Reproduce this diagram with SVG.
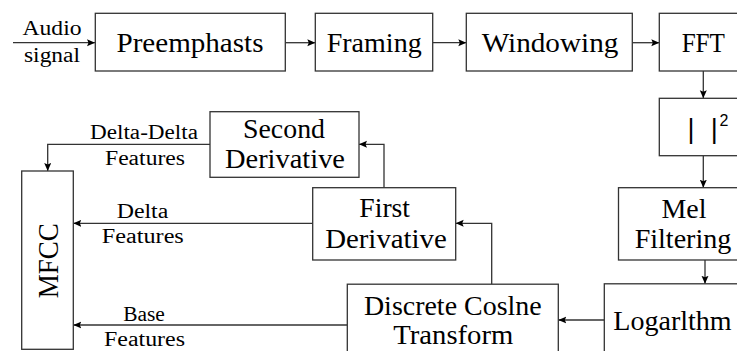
<svg xmlns="http://www.w3.org/2000/svg" width="737" height="351" viewBox="0 0 737 351">
<style>
.box{fill:#fff;stroke:#333;stroke-width:1.3}
.t{font-family:'Liberation Serif','Times New Roman',serif;font-size:27px;fill:#000;text-anchor:middle}
.s{font-family:'Liberation Serif','Times New Roman',serif;font-size:20.5px;fill:#000;text-anchor:middle}
.c{fill:none;stroke:#333;stroke-width:1.3}
</style>
<defs>
<marker id="ah" markerUnits="userSpaceOnUse" markerWidth="9" markerHeight="8" refX="8" refY="3.5" orient="auto">
<path d="M0,0 L8,3.5 L0,7 L1.5,3.5 z" fill="#000"/>
</marker>
</defs>
<rect width="737" height="351" fill="#fff"/>
<g id="connectors">
<line class="c" x1="13" y1="42.7" x2="95" y2="42.7" marker-end="url(#ah)"/>
<line class="c" x1="285.3" y1="42.7" x2="315.3" y2="42.7" marker-end="url(#ah)"/>
<line class="c" x1="432.7" y1="42.7" x2="466.3" y2="42.7" marker-end="url(#ah)"/>
<line class="c" x1="632.3" y1="42.7" x2="659.3" y2="42.7" marker-end="url(#ah)"/>
<line class="c" x1="703.3" y1="71" x2="703.3" y2="98.3" marker-end="url(#ah)"/>
<line class="c" x1="703.3" y1="155.7" x2="703.3" y2="187.7" marker-end="url(#ah)"/>
<line class="c" x1="705" y1="260" x2="705" y2="283.8" marker-end="url(#ah)"/>
<line class="c" x1="604.3" y1="320" x2="558.3" y2="320" marker-end="url(#ah)"/>
<polyline class="c" points="491.7,284.2 491.7,223.3 455.7,223.3" marker-end="url(#ah)"/>
<polyline class="c" points="384,187.7 384,144.3 359,144.3" marker-end="url(#ah)"/>
<polyline class="c" points="210,144.3 47.7,144.3 47.7,171" marker-end="url(#ah)"/>
<line class="c" x1="312.7" y1="223.3" x2="73.3" y2="223.3" marker-end="url(#ah)"/>
<line class="c" x1="347.3" y1="325" x2="73.3" y2="325" marker-end="url(#ah)"/>
<text class="s" x="52" y="35" textLength="59" lengthAdjust="spacingAndGlyphs">Audio</text>
<text class="s" x="52" y="62" textLength="56" lengthAdjust="spacingAndGlyphs">signal</text>
<text class="s" x="144" y="138.5" textLength="108" lengthAdjust="spacingAndGlyphs">Delta-Delta</text>
<text class="s" x="145" y="165" textLength="80" lengthAdjust="spacingAndGlyphs">Features</text>
<text class="s" x="142.5" y="218.3" textLength="51.7" lengthAdjust="spacingAndGlyphs">Delta</text>
<text class="s" x="142.8" y="243.3" textLength="82" lengthAdjust="spacingAndGlyphs">Features</text>
<text class="s" x="144" y="321" textLength="41.7" lengthAdjust="spacingAndGlyphs">Base</text>
<text class="s" x="144.5" y="346" textLength="81" lengthAdjust="spacingAndGlyphs">Features</text>
</g>
<g id="preemphasts">
<rect class="box" x="95.3" y="13.3" width="190" height="57.7"/>
<text class="t" x="190" y="51.7" textLength="147" lengthAdjust="spacingAndGlyphs">Preemphasts</text>
</g>
<g id="framing">
<rect class="box" x="315.3" y="13.3" width="117.4" height="57.7"/>
<text class="t" x="374.2" y="51.7" textLength="95" lengthAdjust="spacingAndGlyphs">Framing</text>
</g>
<g id="windowing">
<rect class="box" x="466.3" y="13.3" width="166" height="57.7"/>
<text class="t" x="550" y="51.7" textLength="136.7" lengthAdjust="spacingAndGlyphs">Windowing</text>
</g>
<g id="fft">
<rect class="box" x="659.3" y="13.3" width="100" height="57.7"/>
<text class="t" x="703.3" y="51.7" textLength="43.3" lengthAdjust="spacingAndGlyphs">FFT</text>
</g>
<g id="magnitude">
<rect class="box" x="659.3" y="98.3" width="100" height="57.4"/>
<text x="687.5" y="137.5" font-family="'Liberation Sans','DejaVu Sans',sans-serif" font-size="27" fill="#000">|<tspan x="710.8">|</tspan><tspan x="719.5" dy="-11.5" font-size="16">2</tspan></text>
</g>
<g id="mel">
<rect class="box" x="618.5" y="187.7" width="130" height="72.3"/>
<text class="t" x="684" y="218.3" textLength="45" lengthAdjust="spacingAndGlyphs">Mel</text>
<text class="t" x="683" y="248.3" textLength="96.7" lengthAdjust="spacingAndGlyphs">Filtering</text>
</g>
<g id="logarithm">
<rect class="box" x="604.3" y="283.8" width="140" height="100"/>
<text class="t" x="672.5" y="330" textLength="118.4" lengthAdjust="spacingAndGlyphs">Logarlthm</text>
</g>
<g id="dct">
<rect class="box" x="347.3" y="284.2" width="211" height="100"/>
<text class="t" x="452.8" y="315" textLength="177.7" lengthAdjust="spacingAndGlyphs">Discrete Coslne</text>
<text class="t" x="453.3" y="344" textLength="120" lengthAdjust="spacingAndGlyphs">Transform</text>
</g>
<g id="first-derivative">
<rect class="box" x="312.7" y="187.7" width="143" height="72.3"/>
<text class="t" x="384.7" y="216.7" textLength="50.7" lengthAdjust="spacingAndGlyphs">First</text>
<text class="t" x="386" y="248.3" textLength="121.7" lengthAdjust="spacingAndGlyphs">Derivative</text>
</g>
<g id="second-derivative">
<rect class="box" x="210" y="111.7" width="149" height="65.6"/>
<text class="t" x="284" y="138.3" textLength="82" lengthAdjust="spacingAndGlyphs">Second</text>
<text class="t" x="285" y="168.3" textLength="120" lengthAdjust="spacingAndGlyphs">Derivative</text>
</g>
<g id="mfcc">
<rect class="box" x="21.7" y="171" width="51.6" height="178.3"/>
<text class="t" transform="translate(58.3 260.8) rotate(-90)" x="0" y="0" style="font-size:29px" textLength="75" lengthAdjust="spacingAndGlyphs">MFCC</text>
</g>
</svg>
